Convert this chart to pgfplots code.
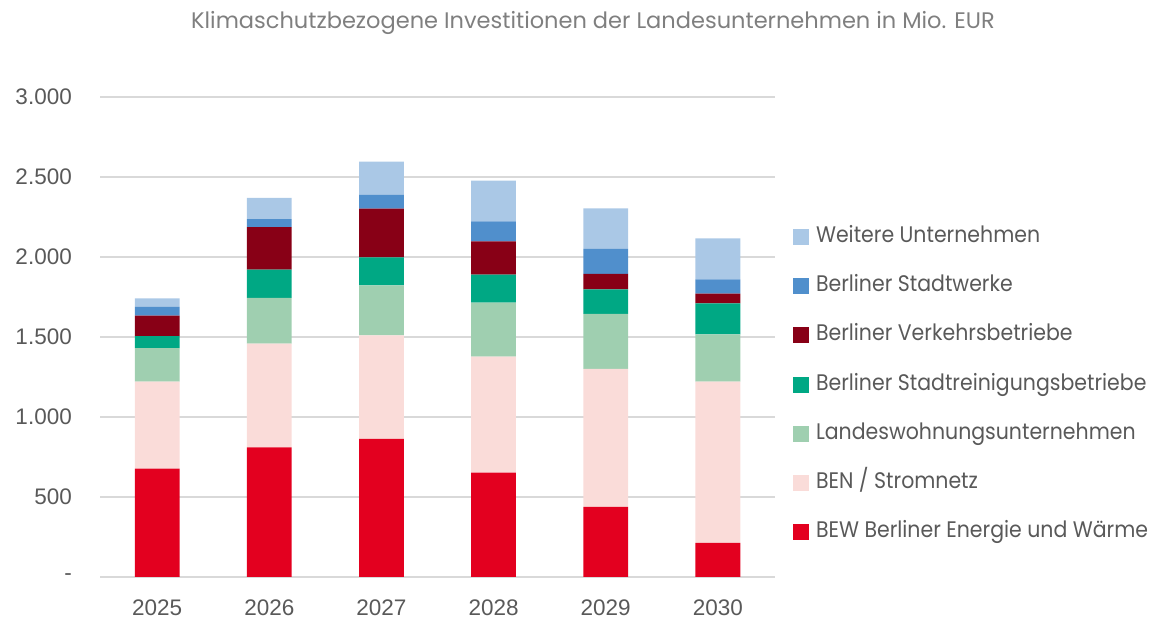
\documentclass[border=0pt]{standalone}
\usepackage{fontspec}
\setmainfont{Poppins}
\newfontfamily\legfont{Poppins}[FakeStretch=0.91]
\newfontfamily\tickfont{Liberation Sans}
\usepackage{pgfplots}
\pgfplotsset{compat=1.18}
\definecolor{cBEW}{HTML}{E3001F}
\definecolor{cBEN}{HTML}{FADCD9}
\definecolor{cLW}{HTML}{9FCFB0}
\definecolor{cBSR}{HTML}{00A884}
\definecolor{cBVG}{HTML}{880016}
\definecolor{cSW}{HTML}{508FCC}
\definecolor{cWU}{HTML}{AAC8E6}
\definecolor{txtgray}{HTML}{595959}
\definecolor{titlegray}{HTML}{7F7F7F}
\definecolor{gridgray}{HTML}{D9D9D9}
\begin{document}
\begin{tikzpicture}
\path[use as bounding box] (0,0) rectangle (1153bp,621bp);
\node[anchor=north, inner sep=0pt, text=titlegray, font=\fontsize{22.5bp}{26bp}\selectfont] at (593bp,610bp) {Klimaschutzbezogene Investitionen der Landesunternehmen in Mio. EUR};
\begin{axis}[
  at={(100bp,44bp)}, anchor=south west,
  scale only axis, width=675bp, height=480bp,
  xmin=-0.51, xmax=5.51, ymin=0, ymax=3000,
  ybar stacked, bar width=0.4,
  xtick={0,1,2,3,4,5},
  xticklabels={2025,2026,2027,2028,2029,2030},
  ytick={0,500,1000,1500,2000,2500,3000},
  yticklabels={-,500,1.000,1.500,2.000,2.500,3.000},
  major tick length=0pt,
  axis line style={draw=none},
  ymajorgrids, grid style={gridgray, line width=1.3bp},
  ticklabel style={font=\tickfont\fontsize{22.5bp}{26bp}\selectfont, text=txtgray, inner sep=0pt},
  yticklabel style={anchor=east, xshift=-28bp},
  xticklabel style={anchor=north, yshift=-23bp},
  reverse legend,
  legend cell align=left,
  legend image code/.code={\fill[#1] (0bp,-8bp) rectangle (16bp,8bp);},
  legend style={at={(1.0267,0.401)}, anchor=west, draw=none, fill=none,
    inner sep=0pt, outer sep=0pt,
    font=\legfont\fontsize{22.5bp}{26bp}\selectfont, text=txtgray,
    nodes={inner sep=0pt, text height=16bp, text depth=5bp},
    row sep=28.3bp,
    /tikz/every odd column/.append style={column sep=7bp}},
]
\addplot[fill=cBEW, draw=none] coordinates {(0,677) (1,810) (2,864) (3,652) (4,439) (5,214)};
\addlegendentry{BEW Berliner Energie und Wärme}
\addplot[fill=cBEN, draw=none] coordinates {(0,544) (1,648) (2,646) (3,725) (4,861) (5,1007)};
\addlegendentry{BEN / Stromnetz}
\addplot[fill=cLW, draw=none] coordinates {(0,210) (1,286) (2,313) (3,338) (4,344) (5,296)};
\addlegendentry{Landeswohnungsunternehmen}
\addplot[fill=cBSR, draw=none] coordinates {(0,75) (1,177) (2,175) (3,175) (4,154) (5,193)};
\addlegendentry{Berliner Stadtreinigungsbetriebe}
\addplot[fill=cBVG, draw=none] coordinates {(0,127) (1,266) (2,304) (3,208) (4,96) (5,61)};
\addlegendentry{Berliner Verkehrsbetriebe}
\addplot[fill=cSW, draw=none] coordinates {(0,56) (1,50) (2,86) (3,125) (4,156) (5,89)};
\addlegendentry{Berliner Stadtwerke}
\addplot[fill=cWU, draw=none] coordinates {(0,53) (1,132) (2,208) (3,254) (4,254) (5,257)};
\addlegendentry{Weitere Unternehmen}
\end{axis}
\end{tikzpicture}
\end{document}
